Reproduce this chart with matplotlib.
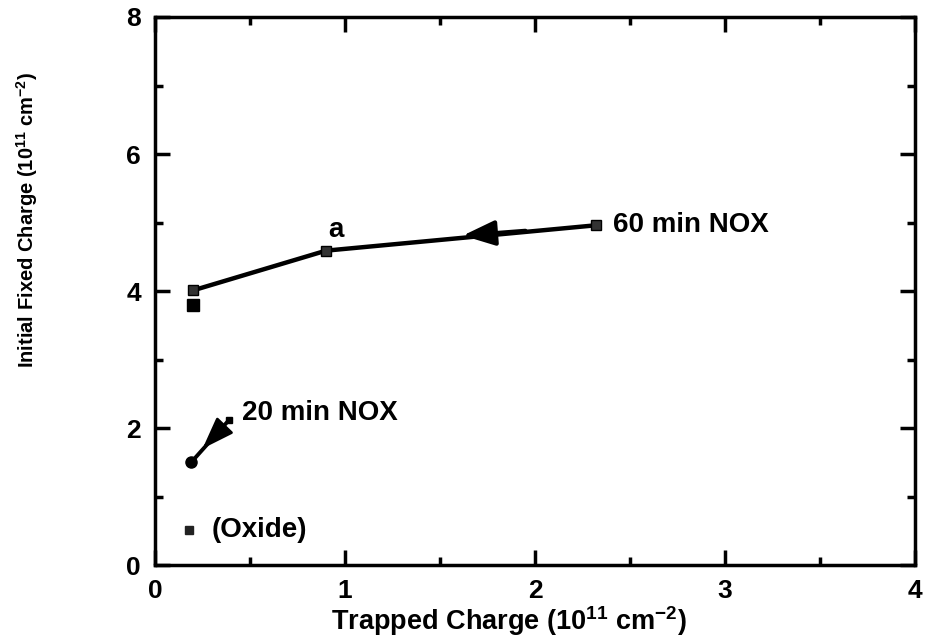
import matplotlib
matplotlib.use('Agg')
from matplotlib import pyplot as plt
from matplotlib.ticker import MultipleLocator

plt.rcParams['font.family'] = ['Liberation Sans', 'DejaVu Sans']
plt.rcParams['font.weight'] = 'bold'
plt.rcParams['mathtext.fontset'] = 'custom'
plt.rcParams['mathtext.rm'] = 'Liberation Sans:bold'
plt.rcParams['mathtext.default'] = 'rm'

# 60 min NOX series (trapped, fixed), 10^11 cm^-2
nox60_x = [2.32, 0.90, 0.20]
nox60_y = [4.96, 4.59, 4.01]
extra_x = [0.20]
extra_y = [3.80]
# 20 min NOX
nox20_x = [0.39, 0.19]
nox20_y = [2.12, 1.50]
# oxide
oxide_x = [0.18]
oxide_y = [0.51]

fig = plt.figure(figsize=(9.26, 6.43), dpi=100)
ax = fig.add_axes([0.1674, 0.121, 0.8206, 0.8526])

ax.plot(nox60_x, nox60_y, color='black', lw=3.2, marker='s', ms=7,
        mfc='#333333', mec='black', zorder=3)
ax.plot(extra_x, extra_y, ls='none', marker='s', ms=8, color='black')
ax.plot(nox20_x, nox20_y, color='black', lw=2.8, zorder=3)
ax.plot(nox20_x[:1], nox20_y[:1], ls='none', marker='s', ms=5, color='black')
ax.plot(nox20_x[1:], nox20_y[1:], ls='none', marker='o', ms=8, color='black')
ax.plot(oxide_x, oxide_y, ls='none', marker='s', ms=6, color='#222222')

# direction arrows
ax.annotate('', xy=(1.62, 4.81), xytext=(1.95, 4.88),
            arrowprops=dict(arrowstyle='-|>,head_length=0.9,head_width=0.35',
                            color='black', lw=3, mutation_scale=22,
                            shrinkA=0, shrinkB=0))
ax.annotate('', xy=(0.25, 1.70), xytext=(0.34, 1.96),
            arrowprops=dict(arrowstyle='-|>,head_length=0.9,head_width=0.32',
                            color='black', lw=2, mutation_scale=22,
                            shrinkA=0, shrinkB=0))

ax.text(0.95, 4.89, 'a', fontsize=20, fontweight='bold', ha='center', va='center')
ax.text(2.41, 4.96, '60 min NOX', fontsize=20, fontweight='bold', va='center')
ax.text(0.46, 2.22, '20 min NOX', fontsize=20, fontweight='bold', va='center')
ax.text(0.30, 0.51, '(Oxide)', fontsize=20, fontweight='bold', va='center')

ax.set_xlim(0, 4)
ax.set_ylim(0, 8)
ax.xaxis.set_major_locator(MultipleLocator(1))
ax.xaxis.set_minor_locator(MultipleLocator(0.5))
ax.yaxis.set_major_locator(MultipleLocator(2))
ax.yaxis.set_minor_locator(MultipleLocator(1))
ax.tick_params(which='both', direction='in', top=True, right=True, width=2.5,
               labelsize=19, pad=10)
ax.tick_params(which='major', length=11)
ax.tick_params(which='minor', length=6)
for s in ax.spines.values():
    s.set_linewidth(2.5)

ax.set_xlabel('Trapped Charge (10$^{11}$ cm$^{-2}$)', fontsize=19.5, fontweight='bold')
ax.set_ylabel('Initial Fixed Charge (10$^{11}$ cm$^{-2}$)', fontsize=14.5, fontweight='bold')
ax.xaxis.set_label_coords(0.466, -0.072)
ax.yaxis.set_label_coords(-0.152, 0.63)

plt.savefig('out.png', dpi=100)
